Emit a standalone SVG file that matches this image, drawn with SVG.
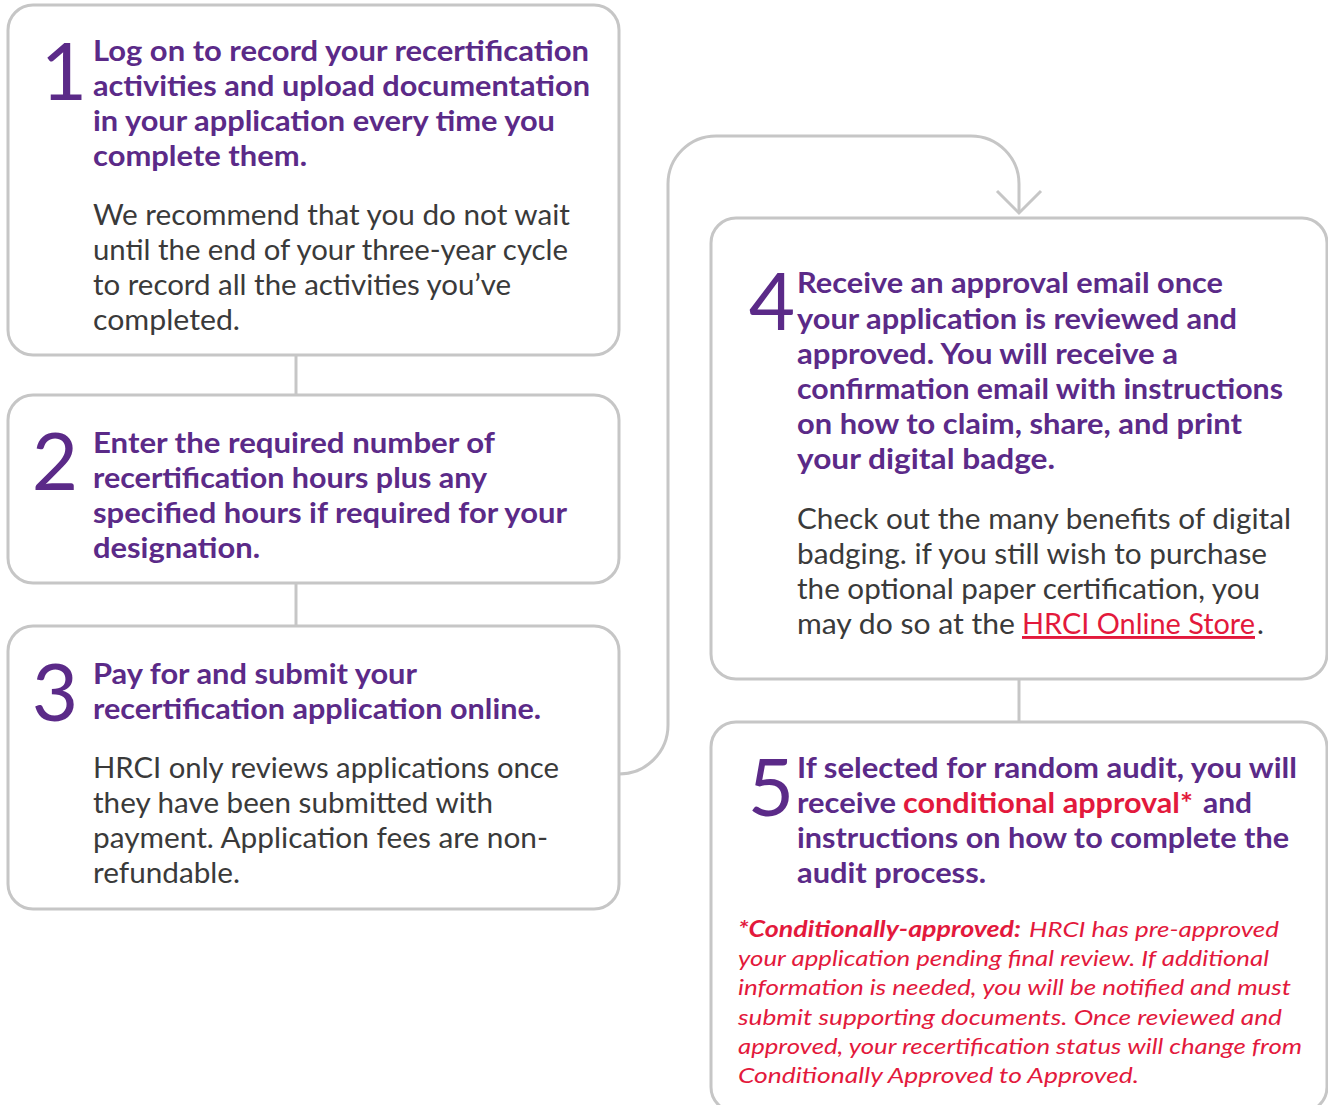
<svg xmlns="http://www.w3.org/2000/svg" width="1328" height="1105" viewBox="0 0 1328 1105">
<style>
.box{fill:#fff;stroke:#c6c6c6;stroke-width:3}
.con{fill:none;stroke:#c6c6c6;stroke-width:3}
.num{font-family:Lato,"Noto Sans",sans-serif;font-weight:400;font-size:80px;fill:#5b2a88;text-anchor:middle}
.h{font-family:Lato,"Noto Sans",sans-serif;font-weight:700;font-size:29px;fill:#5b2a88}
.b{font-family:Lato,"Noto Sans",sans-serif;font-weight:400;font-size:29px;fill:#3a3a3a}
.red{fill:#e3193c}
.fn{font-family:Lato,"Noto Sans",sans-serif;font-style:italic;font-weight:400;font-size:22px;fill:#e3193c}
.fnb{font-weight:700}
</style>
<rect width="1328" height="1105" fill="#fff"/>
<g id="connectors">
<line class="con" x1="296" y1="355" x2="296" y2="395"/>
<line class="con" x1="296" y1="583" x2="296" y2="626"/>
<line class="con" x1="1019" y1="679" x2="1019" y2="722"/>
<path class="con" d="M619 774 A49 49 0 0 0 668 725 L668 184 A48 48 0 0 1 716 136 L971 136 A48 48 0 0 1 1019 184 L1019 213"/>
<polyline class="con" points="997,191 1019,213 1041,191"/>
</g>
<g id="node1">
<rect class="box" x="8" y="5" width="611" height="350" rx="25"/>
<text class="num" x="64" y="100">1</text>
<text class="h" x="93" y="61" textLength="496" lengthAdjust="spacingAndGlyphs">Log on to record your recertification</text>
<text class="h" x="93" y="96" textLength="497" lengthAdjust="spacingAndGlyphs">activities and upload documentation</text>
<text class="h" x="93" y="131" textLength="462" lengthAdjust="spacingAndGlyphs">in your application every time you</text>
<text class="h" x="93" y="166" textLength="214" lengthAdjust="spacingAndGlyphs">complete them.</text>
<text class="b" x="93" y="225" textLength="477" lengthAdjust="spacingAndGlyphs">We recommend that you do not wait</text>
<text class="b" x="93" y="260" textLength="475" lengthAdjust="spacingAndGlyphs">until the end of your three-year cycle</text>
<text class="b" x="93" y="295" textLength="418" lengthAdjust="spacingAndGlyphs">to record all the activities you’ve</text>
<text class="b" x="93" y="330" textLength="147" lengthAdjust="spacingAndGlyphs">completed.</text>
</g>
<g id="node2">
<rect class="box" x="8" y="395" width="611" height="188" rx="25"/>
<text class="num" x="55" y="490">2</text>
<text class="h" x="93" y="453" textLength="402" lengthAdjust="spacingAndGlyphs">Enter the required number of</text>
<text class="h" x="93" y="488" textLength="394" lengthAdjust="spacingAndGlyphs">recertification hours plus any</text>
<text class="h" x="93" y="523" textLength="474" lengthAdjust="spacingAndGlyphs">specified hours if required for your</text>
<text class="h" x="93" y="558" textLength="167" lengthAdjust="spacingAndGlyphs">designation.</text>
</g>
<g id="node3">
<rect class="box" x="8" y="626" width="611" height="283" rx="25"/>
<text class="num" x="55" y="721">3</text>
<text class="h" x="93" y="684" textLength="324" lengthAdjust="spacingAndGlyphs">Pay for and submit your</text>
<text class="h" x="93" y="719" textLength="448" lengthAdjust="spacingAndGlyphs">recertification application online.</text>
<text class="b" x="93" y="778" textLength="466" lengthAdjust="spacingAndGlyphs">HRCI only reviews applications once</text>
<text class="b" x="93" y="813" textLength="400" lengthAdjust="spacingAndGlyphs">they have been submitted with</text>
<text class="b" x="93" y="848" textLength="455" lengthAdjust="spacingAndGlyphs">payment. Application fees are non-</text>
<text class="b" x="93" y="883" textLength="147" lengthAdjust="spacingAndGlyphs">refundable.</text>
</g>
<g id="node4">
<rect class="box" x="711" y="218" width="616" height="461" rx="25"/>
<text class="num" x="772" y="330">4</text>
<text class="h" x="797" y="293" textLength="426" lengthAdjust="spacingAndGlyphs">Receive an approval email once</text>
<text class="h" x="797" y="329" textLength="440" lengthAdjust="spacingAndGlyphs">your application is reviewed and</text>
<text class="h" x="797" y="364" textLength="381" lengthAdjust="spacingAndGlyphs">approved. You will receive a</text>
<text class="h" x="797" y="399" textLength="486" lengthAdjust="spacingAndGlyphs">confirmation email with instructions</text>
<text class="h" x="797" y="434" textLength="445" lengthAdjust="spacingAndGlyphs">on how to claim, share, and print</text>
<text class="h" x="797" y="469" textLength="258" lengthAdjust="spacingAndGlyphs">your digital badge.</text>
<text class="b" x="797" y="529" textLength="494" lengthAdjust="spacingAndGlyphs">Check out the many benefits of digital</text>
<text class="b" x="797" y="564" textLength="470" lengthAdjust="spacingAndGlyphs">badging. if you still wish to purchase</text>
<text class="b" x="797" y="599" textLength="463" lengthAdjust="spacingAndGlyphs">the optional paper certification, you</text>
<text class="b" x="797" y="634" textLength="218" lengthAdjust="spacingAndGlyphs">may do so at the</text>
<text class="b red" x="1022" y="634" text-decoration="underline" textLength="233" lengthAdjust="spacingAndGlyphs">HRCI Online Store</text>
<text class="b" x="1257" y="634">.</text>
</g>
<g id="node5">
<rect class="box" x="711" y="722" width="616" height="390" rx="25"/>
<text class="num" x="771" y="816">5</text>
<text class="h" x="797" y="778" textLength="500" lengthAdjust="spacingAndGlyphs">If selected for random audit, you will</text>
<text class="h" x="797" y="813" textLength="99" lengthAdjust="spacingAndGlyphs">receive</text>
<text class="h red" x="903" y="813" textLength="290" lengthAdjust="spacingAndGlyphs">conditional approval*</text>
<text class="h" x="1203" y="813" textLength="49" lengthAdjust="spacingAndGlyphs">and</text>
<text class="h" x="797" y="848" textLength="492" lengthAdjust="spacingAndGlyphs">instructions on how to complete the</text>
<text class="h" x="797" y="883" textLength="189" lengthAdjust="spacingAndGlyphs">audit process.</text>
<text class="fn fnb" x="738" y="937" textLength="283" lengthAdjust="spacingAndGlyphs">*Conditionally-approved:</text>
<text class="fn" x="1029" y="937" textLength="250" lengthAdjust="spacingAndGlyphs">HRCI has pre-approved</text>
<text class="fn" x="738" y="966" textLength="531" lengthAdjust="spacingAndGlyphs">your application pending final review. If additional</text>
<text class="fn" x="738" y="995" textLength="553" lengthAdjust="spacingAndGlyphs">information is needed, you will be notified and must</text>
<text class="fn" x="738" y="1025" textLength="544" lengthAdjust="spacingAndGlyphs">submit supporting documents. Once reviewed and</text>
<text class="fn" x="738" y="1054" textLength="564" lengthAdjust="spacingAndGlyphs">approved, your recertification status will change from</text>
<text class="fn" x="738" y="1083" textLength="401" lengthAdjust="spacingAndGlyphs">Conditionally Approved to Approved.</text>
</g>
</svg>
